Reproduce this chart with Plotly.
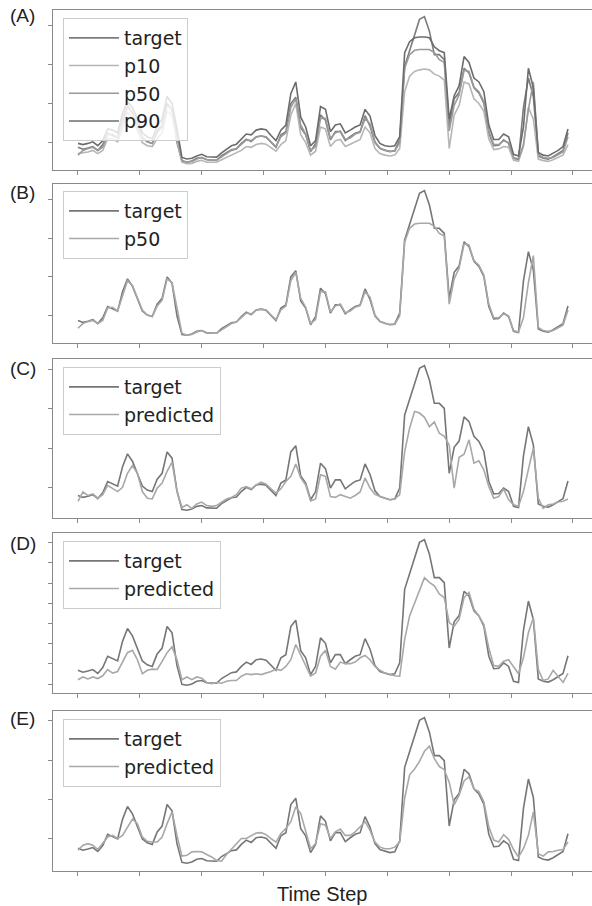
import plotly.graph_objects as go

# ---------------- data ----------------
steps = list(range(0, 200, 2))

target = [0.88, 0.83, 0.86, 0.90, 0.80, 0.95, 1.24, 1.18, 1.12, 1.62,
          1.95, 1.76, 1.45, 1.12, 1.02, 0.98, 1.30, 1.45, 2.00, 1.84,
          1.00, 0.52, 0.50, 0.53, 0.60, 0.62, 0.56, 0.55, 0.55, 0.67,
          0.74, 0.82, 0.84, 0.98, 1.09, 1.03, 1.15, 1.17, 1.14, 1.00,
          0.88, 1.20, 1.28, 2.00, 2.16, 1.38, 1.20, 0.77, 0.98, 1.71,
          1.57, 1.07, 1.28, 1.28, 1.05, 1.15, 1.24, 1.28, 1.69, 1.42,
          1.00, 0.85, 0.80, 0.77, 0.79, 1.07, 2.95, 3.34, 3.70, 4.15,
          4.22, 3.85, 3.25, 3.25, 3.12, 1.45, 2.12, 2.28, 2.90, 2.78,
          2.40, 2.27, 2.01, 1.24, 0.92, 0.93, 1.07, 0.98, 0.60, 0.57,
          1.90, 2.65, 2.18, 0.66, 0.60, 0.58, 0.64, 0.72, 0.80, 1.25]

p10 = [0.72, 0.74, 0.76, 0.80, 0.72, 0.80, 1.10, 1.10, 1.02, 1.35,
       1.78, 1.62, 1.32, 1.00, 0.92, 0.90, 1.10, 1.25, 1.80, 1.70,
       1.05, 0.50, 0.46, 0.47, 0.52, 0.55, 0.50, 0.50, 0.50, 0.56,
       0.62, 0.68, 0.72, 0.80, 0.90, 0.88, 0.95, 0.98, 0.96, 0.86,
       0.78, 0.95, 1.05, 1.70, 2.00, 1.20, 1.00, 0.68, 0.78, 1.40,
       1.35, 0.90, 1.05, 1.08, 0.90, 0.96, 1.02, 1.08, 1.40, 1.25,
       0.85, 0.72, 0.68, 0.66, 0.68, 0.85, 2.30, 2.70, 2.82, 2.86,
       2.88, 2.86, 2.75, 2.70, 2.60, 0.85, 1.70, 1.95, 2.55, 2.50,
       2.12, 2.00, 1.80, 1.10, 0.82, 0.84, 0.90, 0.88, 0.55, 0.52,
       0.90, 1.90, 1.60, 0.58, 0.54, 0.52, 0.56, 0.62, 0.68, 0.95]

p50 = [0.68, 0.80, 0.85, 0.88, 0.80, 0.88, 1.20, 1.22, 1.12, 1.50,
       1.90, 1.78, 1.48, 1.15, 1.02, 0.98, 1.25, 1.40, 1.95, 1.85,
       1.20, 0.55, 0.50, 0.52, 0.58, 0.62, 0.57, 0.55, 0.55, 0.64,
       0.72, 0.80, 0.84, 0.95, 1.07, 1.05, 1.14, 1.17, 1.15, 1.02,
       0.90, 1.15, 1.25, 1.90, 2.12, 1.45, 1.22, 0.80, 0.90, 1.62,
       1.62, 1.10, 1.25, 1.30, 1.08, 1.12, 1.22, 1.26, 1.62, 1.48,
       1.02, 0.86, 0.80, 0.78, 0.78, 1.00, 2.90, 3.25, 3.36, 3.38,
       3.38, 3.38, 3.30, 3.12, 3.05, 1.30, 1.95, 2.22, 2.85, 2.82,
       2.42, 2.30, 2.05, 1.30, 0.95, 0.95, 1.05, 1.00, 0.62, 0.58,
       0.95, 1.85, 2.55, 0.70, 0.62, 0.60, 0.62, 0.70, 0.76, 1.15]

p90 = [0.98, 0.95, 0.98, 1.02, 0.92, 1.05, 1.35, 1.32, 1.25, 1.75,
       2.05, 1.90, 1.60, 1.25, 1.15, 1.10, 1.42, 1.60, 2.18, 2.00,
       1.35, 0.62, 0.58, 0.60, 0.66, 0.70, 0.64, 0.63, 0.63, 0.74,
       0.82, 0.92, 0.96, 1.10, 1.22, 1.20, 1.32, 1.35, 1.33, 1.18,
       1.05, 1.32, 1.45, 2.25, 2.55, 1.65, 1.40, 0.92, 1.05, 1.92,
       1.85, 1.28, 1.45, 1.48, 1.25, 1.32, 1.40, 1.45, 1.85, 1.68,
       1.18, 0.98, 0.92, 0.90, 0.92, 1.15, 3.30, 3.58, 3.68, 3.70,
       3.70, 3.68, 3.45, 3.35, 3.30, 1.60, 2.20, 2.45, 3.20, 3.05,
       2.65, 2.55, 2.30, 1.45, 1.08, 1.08, 1.22, 1.15, 0.70, 0.66,
       1.40, 2.90, 2.40, 0.75, 0.68, 0.66, 0.72, 0.80, 0.90, 1.35]

pred_c = [0.73, 0.97, 0.88, 0.92, 0.81, 0.90, 1.14, 1.07, 0.98, 1.09,
          1.45, 1.65, 1.45, 0.98, 0.81, 0.79, 1.07, 1.20, 1.50, 1.74,
          0.98, 0.57, 0.64, 0.55, 0.66, 0.71, 0.62, 0.60, 0.62, 0.71,
          0.79, 0.83, 0.90, 1.07, 1.11, 1.05, 1.15, 1.22, 1.17, 1.05,
          0.94, 1.05, 1.24, 1.37, 1.69, 1.33, 1.15, 0.74, 0.79, 1.41,
          1.37, 0.85, 0.83, 0.90, 0.85, 0.81, 0.88, 0.97, 1.33, 1.07,
          0.91, 0.85, 0.81, 0.77, 0.79, 0.90, 2.01, 2.61, 3.04, 3.00,
          2.89, 2.65, 2.77, 2.48, 2.40, 2.18, 1.07, 1.86, 1.94, 2.31,
          1.71, 1.77, 1.54, 1.11, 0.81, 0.85, 1.05, 0.77, 0.64, 0.60,
          0.98, 1.55, 2.10, 0.81, 0.55, 0.64, 0.66, 0.71, 0.73, 0.79]

pred_d = [0.64, 0.71, 0.66, 0.71, 0.67, 0.74, 0.90, 0.81, 0.85, 1.11,
          1.33, 1.39, 1.15, 0.79, 0.88, 0.91, 0.90, 1.11, 1.33, 1.48,
          1.15, 0.64, 0.71, 0.64, 0.71, 0.68, 0.57, 0.54, 0.57, 0.55,
          0.60, 0.62, 0.62, 0.73, 0.79, 0.77, 0.79, 0.77, 0.81, 0.85,
          0.91, 0.88, 0.98, 1.15, 1.54, 1.28, 0.98, 0.73, 0.81, 1.24,
          1.39, 0.98, 0.91, 1.09, 1.05, 1.05, 1.09, 1.20, 1.26, 1.15,
          0.98, 0.88, 0.81, 0.77, 0.74, 0.73, 1.67, 2.27, 2.61, 2.95,
          3.25, 3.13, 3.04, 2.83, 2.74, 2.10, 2.01, 2.18, 2.74, 2.87,
          2.44, 2.27, 2.05, 1.45, 1.00, 0.98, 1.11, 1.15, 0.98, 0.79,
          1.20, 1.84, 2.23, 0.90, 0.62, 0.66, 0.88, 0.73, 0.57, 0.80]

pred_e = [0.83, 0.96, 1.00, 0.96, 0.85, 1.00, 1.17, 1.21, 1.13, 1.21,
          1.43, 1.63, 1.51, 1.17, 1.06, 1.04, 1.04, 1.17, 1.51, 1.81,
          1.21, 0.68, 0.70, 0.79, 0.80, 0.79, 0.72, 0.66, 0.57, 0.55,
          0.72, 0.85, 1.00, 1.13, 1.13, 1.21, 1.27, 1.28, 1.23, 1.13,
          1.04, 1.26, 1.39, 1.56, 1.94, 1.77, 1.30, 0.87, 1.00, 1.51,
          1.47, 1.13, 1.30, 1.37, 1.21, 1.21, 1.30, 1.43, 1.56, 1.34,
          1.04, 0.91, 0.87, 0.87, 0.91, 1.04, 2.16, 2.76, 2.91, 3.10,
          3.36, 3.49, 3.17, 2.97, 2.89, 2.57, 1.99, 2.24, 2.60, 2.71,
          2.40, 2.33, 2.07, 1.43, 1.09, 1.04, 1.23, 1.11, 0.85, 0.66,
          0.87, 1.21, 1.81, 0.74, 0.68, 0.79, 0.80, 0.83, 0.85, 1.04]

panel_labels = ["(A)", "(B)", "(C)", "(D)", "(E)"]
x_title = "Time Step"

# ---------------- layout geometry / style ----------------
W, H = 592, 906
panel_px = [(10, 170), (184, 343), (359, 518), (533, 693), (711, 871)]
label_px = [16, 193, 368, 543, 718]
legend_top_px = [18, 191, 367, 541, 719]
ytick_setup = [(1.0, 1.0), (1.0, 1.0), (1.072, 1.02), (0.53, 0.516), (1.12, 1.006)]
y_range = [0.30, 4.39]
x_range = [-10.1, 207.7]
x_left = 53 / W

C_TARGET = "#767676"
C_PRED = "#a8a8a8"
C_P10 = "#b6b6b6"
C_P50 = "#9a9a9a"
C_P90 = "#6c6c6c"
FRAME = "#8a8a8a"
LW = 1.6

panel_series = [
    [("target", target, "#7c7c7c"), ("p10", p10, C_P10), ("p50", p50, C_P50), ("p90", p90, C_P90)],
    [("target", target, C_TARGET), ("p50", p50, C_PRED)],
    [("target", target, C_TARGET), ("predicted", pred_c, C_PRED)],
    [("target", target, C_TARGET), ("predicted", pred_d, C_PRED)],
    [("target", target, C_TARGET), ("predicted", pred_e, C_PRED)],
]

fig = go.Figure()
layout = dict(
    width=W, height=H,
    margin=dict(l=0, r=0, t=0, b=0),
    paper_bgcolor="white", plot_bgcolor="white",
    showlegend=True,
    annotations=[],
)

for p, series in enumerate(panel_series):
    n = "" if p == 0 else str(p + 1)
    leg = "legend" if p == 0 else "legend" + str(p + 1)
    for name, vals, col in series:
        fig.add_trace(go.Scatter(
            x=steps, y=vals, mode="lines", name=name,
            line=dict(color=col, width=LW),
            xaxis="x" + n, yaxis="y" + n,
            legend=leg, legendgroup=f"{p}_{name}", showlegend=True,
            hoverinfo="skip",
        ))
    top, bot = panel_px[p]
    t0, dt = ytick_setup[p]
    layout["xaxis" + n] = dict(
        domain=[x_left, 1.0], range=x_range, anchor="y" + n,
        showgrid=False, zeroline=False, showline=True, mirror=True,
        linecolor=FRAME, linewidth=1.4,
        ticks="outside", ticklen=4, tickwidth=1, tickcolor=FRAME,
        tickmode="linear", tick0=0, dtick=25, showticklabels=False,
        automargin=False,
    )
    layout["yaxis" + n] = dict(
        domain=[1 - bot / H, 1 - top / H], range=y_range, anchor="x" + n,
        showgrid=False, zeroline=False, showline=True, mirror=False,
        linecolor=FRAME, linewidth=1.4,
        ticks="outside", ticklen=4, tickwidth=1, tickcolor=FRAME,
        tickmode="linear", tick0=t0, dtick=dt, showticklabels=False,
        automargin=False,
    )
    layout[leg] = dict(
        x=63 / W, xanchor="left", y=1 - legend_top_px[p] / H, yanchor="top",
        bgcolor="rgba(255,255,255,0.8)", bordercolor="#cccccc", borderwidth=1,
        font=dict(family="DejaVu Sans", size=19, color="#222222"),
        itemwidth=50, tracegroupgap=1, traceorder="normal",
    )
    layout["annotations"].append(dict(
        text=panel_labels[p], x=8 / W, y=1 - label_px[p] / H,
        xref="paper", yref="paper", xanchor="left", yanchor="middle",
        showarrow=False, font=dict(family="Liberation Sans, Arial", size=19, color="#222222"),
    ))

layout["annotations"].append(dict(
    text=x_title, x=322 / W, y=1 - 894 / H, xref="paper", yref="paper",
    xanchor="center", yanchor="middle", showarrow=False,
    font=dict(family="Liberation Sans, Arial", size=20, color="#222222"),
))

fig.update_layout(**layout)
fig.write_html(
    "out.html",
    config={"displayModeBar": False},
    post_script="document.body.style.margin='0';document.body.style.overflow='hidden';",
)
